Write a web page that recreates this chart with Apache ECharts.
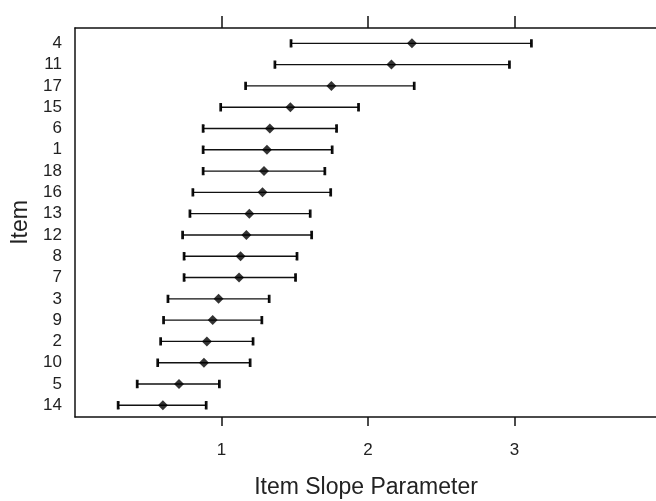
<!DOCTYPE html>
<html>
<head>
<meta charset="utf-8">
<script src="https://cdn.jsdelivr.net/npm/echarts@6/dist/echarts.min.js"></script>
<style>
  html, body { margin: 0; padding: 0; background: #fff; }
  #chart { width: 656px; height: 501px; }
</style>
</head>
<body>
<div id="chart"></div>
<script>
// items listed top to bottom
var items = ['4', '11', '17', '15', '6', '1', '18', '16', '13', '12', '8', '7', '3', '9', '2', '10', '5', '14'];
var estimate = [2.30, 2.16, 1.75, 1.47, 1.33, 1.31, 1.29, 1.28, 1.19, 1.17, 1.13, 1.12, 0.98, 0.94, 0.90, 0.88, 0.71, 0.60];
var lower = [1.47, 1.36, 1.16, 0.99, 0.87, 0.87, 0.87, 0.80, 0.78, 0.73, 0.74, 0.74, 0.63, 0.60, 0.58, 0.56, 0.42, 0.29];
var upper = [3.12, 2.97, 2.32, 1.94, 1.79, 1.76, 1.71, 1.75, 1.61, 1.62, 1.52, 1.51, 1.33, 1.28, 1.22, 1.20, 0.99, 0.90];
var xTicks = [1, 2, 3];

var font = '"Liberation Sans", Arial, sans-serif';
var ink = '#111';
var n = items.length;
var rowPos = items.map(function (d, i) { return n - 1 - i; });

var barData = items.map(function (d, i) { return [lower[i], upper[i], rowPos[i]]; });
var dotData = items.map(function (d, i) { return [estimate[i], rowPos[i]]; });

var myChart = echarts.init(document.getElementById('chart'));
var option = {
  animation: false,
  grid: { left: 75, right: -5, top: 28, bottom: 84, outerBoundsMode: 'none' },
  xAxis: [{
    type: 'value', position: 'bottom', min: 0, max: 4, interval: 1,
    axisLine: { show: true, onZero: false, lineStyle: { color: ink, width: 1.5 } },
    axisTick: { show: true, length: 9, customValues: xTicks, lineStyle: { color: ink, width: 1.5 } },
    axisLabel: { customValues: xTicks, margin: 25, fontSize: 17, fontFamily: font, color: '#222' },
    splitLine: { show: false },
    name: 'Item Slope Parameter', nameLocation: 'middle', nameGap: 59,
    nameTextStyle: { fontSize: 23, fontFamily: font, color: '#222', padding: [0, 0, 0, -4] }
  }, {
    type: 'value', position: 'top', min: 0, max: 4, interval: 1,
    axisLine: { show: true, onZero: false, lineStyle: { color: ink, width: 1.5 } },
    axisTick: { show: true, length: 12, customValues: xTicks, lineStyle: { color: ink, width: 1.5 } },
    axisLabel: { show: false },
    splitLine: { show: false }
  }],
  yAxis: {
    type: 'value', min: -0.55, max: 17.72,
    axisLine: { show: true, onZero: false, lineStyle: { color: ink, width: 1.5 } },
    axisTick: { show: false },
    axisLabel: {
      customValues: rowPos, margin: 13, fontSize: 17, fontFamily: font, color: '#222',
      formatter: function (v) { return items[n - 1 - Math.round(v)]; }
    },
    splitLine: { show: false },
    name: 'Item', nameLocation: 'middle', nameGap: 40, nameRotate: 90,
    nameTextStyle: { fontSize: 23, fontFamily: font, color: '#222' }
  },
  series: [{
    type: 'custom',
    data: barData,
    renderItem: function (params, api) {
      var a = api.coord([api.value(0), api.value(2)]);
      var b = api.coord([api.value(1), api.value(2)]);
      var h = 3.5;
      var st = { stroke: ink, lineWidth: 1.4 };
      return {
        type: 'group',
        children: [
          { type: 'line', shape: { x1: a[0], y1: a[1], x2: b[0], y2: b[1] }, style: st },
          { type: 'polyline', shape: { points: [[a[0] + 2, a[1] - h], [a[0], a[1] - h], [a[0], a[1] + h], [a[0] + 2, a[1] + h]] }, style: st },
          { type: 'polyline', shape: { points: [[b[0] - 2, b[1] - h], [b[0], b[1] - h], [b[0], b[1] + h], [b[0] - 2, b[1] + h]] }, style: st }
        ]
      };
    }
  }, {
    type: 'scatter',
    data: dotData,
    symbol: 'diamond',
    symbolSize: [10, 10],
    itemStyle: { color: '#000' }
  }]
};
myChart.setOption(option);
</script>
</body>
</html>
